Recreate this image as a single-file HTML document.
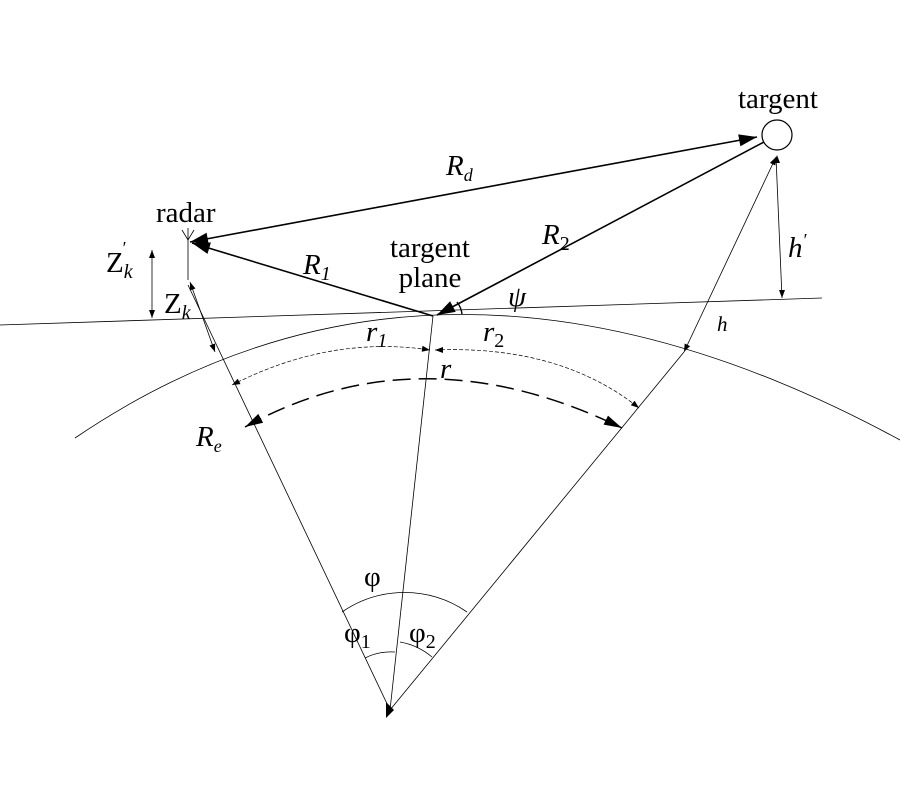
<!DOCTYPE html><html><head><style>body{margin:0;background:#fff}svg{display:block}text{font-family:"Liberation Serif",serif;fill:#000}</style></head><body>
<svg width="900" height="800" viewBox="0 0 900 800">
<g fill="none" stroke="#000">
<path d="M0,325 L822,298" stroke-width="0.8"/>
<path d="M75,438 Q440,190 900,440" stroke-width="0.8"/>
<path d="M390,710 L188,285" stroke-width="0.8"/>
<path d="M390,710 L433,316" stroke-width="0.8"/>
<path d="M390,710 L684,352" stroke-width="0.8"/>
<path d="M188,240 L188,280" stroke-width="0.8"/>
<path d="M182,230 L188,240 L194,230 M188,240 L188,228" stroke-width="0.8"/>
<circle cx="777" cy="135" r="15" stroke-width="1.2"/>
<path d="M757,137 L190,242" stroke-width="1.6"/>
<path d="M433,316 L192,243" stroke-width="1.6"/>
<path d="M764,142 L437,315" stroke-width="1.6"/>
<path d="M457,302 A24,24 0 0 1 462,314" stroke-width="1.4"/>
<path d="M152,250 L152,318" stroke-width="0.8"/>
<path d="M190,282 L215,352" stroke-width="0.8"/>
<path d="M684,352 L776,157" stroke-width="0.8"/>
<path d="M776,157 L782,298" stroke-width="0.8"/>
<path d="M232,385 Q330,335 430,350" stroke-width="0.7" stroke-dasharray="4,2"/>
<path d="M435,350 Q560,345 639,408" stroke-width="0.7" stroke-dasharray="4,2"/>
<path d="M245,427 Q420,330 622,428" stroke-width="1.5" stroke-dasharray="18,8"/>
<path d="M342,612 A110,110 0 0 1 467,612" stroke-width="0.8"/>
<path d="M365,658 A58,58 0 0 1 395,652" stroke-width="0.8"/>
<path d="M400,642 A68,68 0 0 1 432,657" stroke-width="0.8"/>
</g>
<g fill="#000" stroke="none">
<polygon points="190,242 206.6,232.8 208.8,244.6"/>
<polygon points="757,137 738.2,134.4 740.4,146.2"/>
<polygon points="192,243 210.9,242.5 207.5,253.9"/>
<polygon points="437,315 450.1,301.3 455.7,311.9"/>
<polygon points="245,427 258.3,413.9 263.1,422.7"/>
<polygon points="622,428 603.6,424.6 608,415.6"/>
<polygon points="152,250 149,258 155,258"/>
<polygon points="152,318 149,310 155,310"/>
<polygon points="215,352 209.5,345.5 215.1,343.5"/>
<polygon points="190,282 189.9,290.5 195.5,288.5"/>
<polygon points="776,157 775.3,165.5 769.9,162.9"/>
<polygon points="684,352 690.1,346.1 684.7,343.5"/>
<polygon points="777,155 774,163 780,163"/>
<polygon points="782,298 779,290 785,290"/>
<polygon points="232,385 237.7,378.7 240.5,384.1"/>
<polygon points="430,350 421.7,351.8 422.5,345.8"/>
<polygon points="435,350 443,347 443,353"/>
<polygon points="639,408 630.8,405.3 634.6,400.7"/>
<polygon points="386,702 394,710 386,718"/>
</g>
<g font-size="29">
<text x="738" y="108">targent</text>
<text x="156" y="222">radar</text>
<text x="430" y="257" text-anchor="middle">targent</text>
<text x="430" y="287" text-anchor="middle">plane</text>
</g>
<g font-size="29" font-style="italic">
<text x="446" y="175">R<tspan font-size="18" dy="6">d</tspan></text>
<text x="542" y="244">R<tspan font-size="20" dy="6" font-style="normal">2</tspan></text>
<text x="303" y="274">R<tspan font-size="20" dy="6">1</tspan></text>
<text x="508" y="306">ψ</text>
<text x="788" y="257">h<tspan font-size="18" dy="-11">′</tspan></text>
<text x="717" y="331" font-size="21">h</text>
<text x="366" y="341">r<tspan font-size="20" dy="6">1</tspan></text>
<text x="483" y="341">r<tspan font-size="20" dy="6" font-style="normal">2</tspan></text>
<text x="440" y="378">r</text>
<text x="196" y="446">R<tspan font-size="18" dy="6">e</tspan></text>
</g>
<g font-size="29">
<text x="106" y="272">Z<tspan font-size="20" dy="6" font-style="italic">k</tspan><tspan font-size="18" dx="-10" dy="-24">′</tspan></text>
<text x="164" y="313">Z<tspan font-size="20" dy="6" font-style="italic">k</tspan></text>
<text x="364" y="586">φ</text>
<text x="344" y="642">φ<tspan font-size="20" dy="6">1</tspan></text>
<text x="409" y="642">φ<tspan font-size="20" dy="6">2</tspan></text>
</g>
</svg>
</body></html>
